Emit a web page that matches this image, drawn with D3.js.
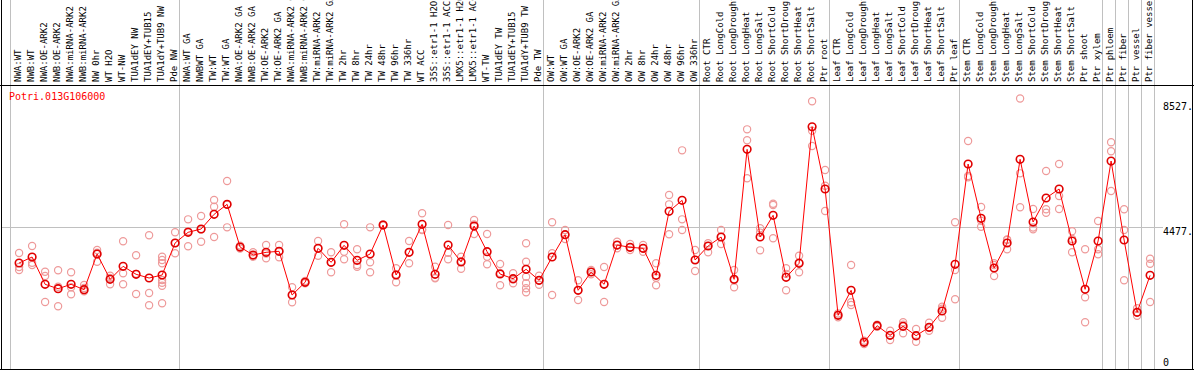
<!DOCTYPE html>
<html>
<head>
<meta charset="utf-8">
<script src="https://cdn.jsdelivr.net/npm/d3@7"></script>
<style>
  body { margin: 0; background: #fff; }
  svg { display: block; }
  text { font-family: "DejaVu Sans Mono", monospace; }
</style>
</head>
<body>
<div id="chart"></div>
<script>
const geneName = "Potri.013G106000";

const categories = [
  "NWA:WT", "NWB:WT", "NWA:OE-ARK2", "NWB:OE-ARK2", "NWA:miRNA-ARK2", "NWB:miRNA-ARK2",
  "NW 0hr", "WT H2O", "WT-NW", "TUA1dEY NW", "TUA1dEY+TUB15", "TUA1dY+TUB9 NW", "Pde NW",
  "NWA:WT GA", "NWBWT GA", "TW:WT", "TW:WT GA", "NWA:OE-ARK2 GA", "NWB:OE-ARK2 GA",
  "TW:OE-ARK2", "TW:OE-ARK2 GA", "NWA:miRNA-ARK2 GA", "NWB:miRNA-ARK2 GA", "TW:miRNA-ARK2",
  "TW:miRNA-ARK2 GA", "TW 2hr", "TW 8hr", "TW 24hr", "TW 48hr", "TW 96hr", "TW 336hr",
  "WT ACC", "35S::etr1-1 H2O", "35S::etr1-1 ACC", "LMX5::etr1-1 H2O", "LMX5::etr1-1 ACC",
  "WT-TW", "TUA1dEY TW", "TUA1dEY+TUB15", "TUA1dY+TUB9 TW", "Pde TW",
  "OW:WT", "OW:WT GA", "OW:OE-ARK2", "OW:OE-ARK2 GA", "OW:miRNA-ARK2", "OW:miRNA-ARK2 GA",
  "OW 2hr", "OW 8hr", "OW 24hr", "OW 48hr", "OW 96hr", "OW 336hr",
  "Root CTR", "Root LongCold", "Root LongDrought", "Root LongHeat", "Root LongSalt",
  "Root ShortCold", "Root ShortDrought", "Root ShortHeat", "Root ShortSalt", "Ptr root",
  "Leaf CTR", "Leaf LongCold", "Leaf LongDrought", "Leaf LongHeat", "Leaf LongSalt",
  "Leaf ShortCold", "Leaf ShortDrought", "Leaf ShortHeat", "Leaf ShortSalt", "Ptr leaf",
  "Stem CTR", "Stem LongCold", "Stem LongDrought", "Stem LongHeat", "Stem LongSalt",
  "Stem ShortCold", "Stem ShortDrought", "Stem ShortHeat", "Stem ShortSalt", "Ptr shoot",
  "Ptr xylem", "Ptr phloem", "Ptr fiber", "Ptr vessel", "Ptr fiber vessel"
];

// index of the first sample of each group (grey separators)
const groupStarts = [0, 13, 41, 53, 63, 73, 84, 85, 86, 87, 88];

const means = [
  3341, 3530, 2670, 2531, 2670, 2500, 3625, 2827, 3237, 2985, 2868, 2963, 3972,
  4309, 4413, 4876, 5191, 3845, 3593, 3678, 3710, 2332, 2733, 3804, 3363, 3899, 3426, 3625,
  4539, 2963, 3678, 4561, 2985, 3908, 3373, 4507, 3697, 2994, 2846, 3143, 2796,
  3530, 4233, 2481, 3057, 2670, 3908, 3836, 3804, 2953, 4971, 5317, 3436,
  3877, 4161, 2827, 6925, 4161, 4845, 2890, 3332, 7637, 5674,
  1693, 2481, 842, 1365, 1062, 1346, 1050, 1314, 1828, 3300,
  6462, 4750, 3184, 3972, 6610, 4633, 5390, 5674, 4035, 2512, 4035,
  6556, 4066, 1787, 2953
];

const replicates = [
  [3656, 3215, 3120], [3877, 3351, 3278], [3067, 2931, 2112], [3111, 2594, 1976],
  [3048, 2575, 2355], [2648, 2449, 2553], [3751, 3666, 3382], [2941, 2670, 2870],
  [4025, 3016, 2670], [3584, 2364, 3000], [4214, 2396, 2008],
  [3540, 3436, 3332, 2805, 2720, 2626, 2071], [4309, 3647, 3972],
  [4718, 3868, 4340], [4823, 4013, 4400], [5327, 5116, 4161], [5926, 4466, 5180],
  [3845, 3800, 3890], [3678, 3540, 3560], [3908, 3489, 3640], [3908, 3521, 3700],
  [2575, 2102, 2330], [2774, 2700, 2730], [4035, 3571, 3800], [3678, 3048, 3360],
  [4561, 3697, 3458], [3773, 3224, 3280], [4466, 3363, 3048], [4520, 4560, 4540],
  [3174, 2733, 2980], [4035, 3332, 3680], [4908, 4381, 4400], [3224, 2859, 2880],
  [4539, 3666, 3458], [3540, 3161, 3400], [4696, 4255, 4560], [4255, 3300, 3540],
  [3310, 2638, 3030], [3016, 2701, 2820], [3962, 3382, 2909, 2701, 2544, 2418],
  [2941, 2657, 2790],
  [4624, 3647, 2332], [4381, 4098, 4230], [2796, 2175, 2480], [3120, 2985, 3060],
  [3215, 2112, 2680], [4013, 3804, 3900], [3940, 3751, 3830], [3908, 3697, 3800],
  [3332, 2878, 2638], [5484, 5191, 4246], [6893, 4718, 4381], [3751, 3089, 3440],
  [3962, 3678, 3880], [4381, 3940, 4160], [3120, 2575, 2800], [7555, 7209, 6011],
  [4435, 3741, 4300], [5210, 5169, 4120], [3174, 2481, 3000], [3571, 3048, 3360],
  [8438, 7511, 7029], [6272, 5778, 4980],
  [1630, 1750, 1700], [3278, 2102, 2017], [788, 850, 890], [1330, 1400, 1365],
  [1207, 914, 1060], [1472, 1125, 1400], [1261, 860, 1030], [1459, 1207, 1300],
  [1964, 1617, 1900], [4624, 3120, 2197],
  [7187, 6083, 6042], [5106, 4674, 4485], [3332, 2931, 3280], [4066, 3773, 4080],
  [8527, 6168, 5097], [5043, 4403, 4460], [6241, 5034, 4927], [6462, 5453, 5043],
  [4340, 3678, 4100], [3773, 2260, 1472], [4665, 3773, 3615],
  [7146, 6862, 5611], [5034, 4381, 2796], [1913, 1680, 1780], [3477, 3319, 2112]
];

const axisTicks = [0, 4477, 8527];
const midLine = 4477;

const width = 1194, height = 370;
const headerBottom = 85, plotBottom = 369;

const svg = d3.select("#chart").append("svg")
  .attr("width", width)
  .attr("height", height);

svg.append("rect").attr("width", width).attr("height", height).attr("fill", "#fff");

const x = d3.scaleBand()
  .domain(d3.range(categories.length))
  .range([10.5, 10.5 + 13 * categories.length]);
const cx = i => x(i) + 8.6;

const y = d3.scaleLinear()
  .domain([0, d3.max(axisTicks)])
  .range([plotBottom, 98.5]);

// grey separators between sample groups
svg.append("g")
  .selectAll("line")
  .data(groupStarts)
  .join("line")
  .attr("x1", d => d < categories.length ? x(d) : x.range()[1])
  .attr("x2", d => d < categories.length ? x(d) : x.range()[1])
  .attr("y1", 0)
  .attr("y2", plotBottom)
  .attr("stroke", "#c0c0c0");

// horizontal reference line
svg.append("line")
  .attr("x1", 1).attr("x2", 1163)
  .attr("y1", Math.round(y(midLine)) + 0.5).attr("y2", Math.round(y(midLine)) + 0.5)
  .attr("stroke", "#c0c0c0");

// frame
svg.append("g").attr("stroke", "#000").attr("fill", "none")
  .call(g => {
    g.append("line").attr("x1", 1.5).attr("x2", 1.5).attr("y1", 0).attr("y2", plotBottom + 1);
    g.append("line").attr("x1", width - 1.5).attr("x2", width - 1.5).attr("y1", 0).attr("y2", plotBottom + 1);
    g.append("line").attr("x1", 0).attr("x2", width).attr("y1", headerBottom + 0.5).attr("y2", headerBottom + 0.5);
    g.append("line").attr("x1", 0).attr("x2", width).attr("y1", plotBottom + 0.5).attr("y2", plotBottom + 0.5);
  });

// rotated sample labels
svg.append("g")
  .selectAll("text")
  .data(categories)
  .join("text")
  .attr("transform", (d, i) => `translate(${cx(i) - 1},82) rotate(-90)`)
  .attr("dy", "0.36em")
  .attr("font-size", 9)
  .attr("fill", "#000")
  .text(d => d);

// value labels on the right
svg.append("g")
  .selectAll("text")
  .data(axisTicks)
  .join("text")
  .attr("x", 1163)
  .attr("y", d => d === 0 ? y(d) - 3.5 : Math.max(y(d) + 8.5, 110))
  .attr("font-size", 10)
  .attr("fill", "#000")
  .text(d => d === 0 ? "0" : d + ".");

// gene name
svg.append("text")
  .attr("x", 9)
  .attr("y", 100.3)
  .attr("font-size", 10)
  .attr("fill", "#ff0000")
  .text(geneName);

// replicate points
const repPts = replicates.flatMap((vals, i) => vals.map(v => ({ i, v })));
svg.append("g")
  .selectAll("circle")
  .data(repPts)
  .join("circle")
  .attr("cx", d => cx(d.i))
  .attr("cy", d => y(d.v))
  .attr("r", 3.6)
  .attr("fill", "none")
  .attr("stroke", "#ee9a9a")
  .attr("stroke-width", 1.2);

// mean line
const line = d3.line()
  .x((d, i) => cx(i))
  .y(d => y(d));

svg.append("path")
  .datum(means)
  .attr("d", line)
  .attr("fill", "none")
  .attr("stroke", "#ff0000")
  .attr("stroke-width", 1);

// mean points
svg.append("g")
  .selectAll("circle")
  .data(means)
  .join("circle")
  .attr("cx", (d, i) => cx(i))
  .attr("cy", d => y(d))
  .attr("r", 3.8)
  .attr("fill", "none")
  .attr("stroke", "#e00000")
  .attr("stroke-width", 1.6);
</script>
</body>
</html>
